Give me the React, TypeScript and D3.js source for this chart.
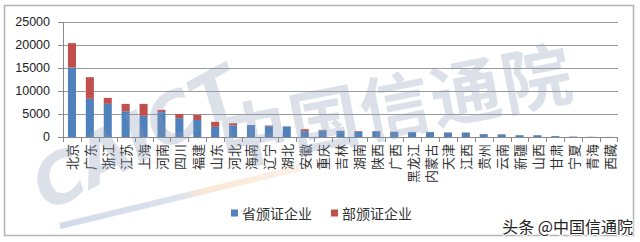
import React from "react";
import * as d3 from "d3";

const provinces = ["北京", "广东", "浙江", "江苏", "上海", "河南", "四川", "福建", "山东", "河北", "海南", "辽宁", "湖北", "安徽", "重庆", "吉林", "湖南", "陕西", "广西", "黑龙江", "内蒙古", "天津", "江西", "贵州", "云南", "新疆", "山西", "甘肃", "宁夏", "青海", "西藏"];
const provincial = [15100, 8300, 7200, 5600, 4600, 5400, 4100, 3700, 2200, 2500, 2600, 2350, 2300, 1250, 1450, 1300, 1150, 1250, 1100, 1050, 1050, 950, 950, 620, 570, 380, 380, 190, 95, 48, 20];
const ministerial = [5300, 4700, 1300, 1600, 2600, 500, 900, 1100, 1100, 500, 0, 150, 0, 450, 100, 50, 150, 50, 50, 50, 50, 50, 50, 30, 30, 20, 20, 10, 5, 2, 0];
const yTicks = [0, 5000, 10000, 15000, 20000, 25000];
const seriesNames = ["省颁证企业", "部颁证企业"];
const colors = ["#4F81BD", "#C0504D"];

const W = 640, H = 242;
const x0 = 63, x1 = 618, yBase = 137, yTop = 22;

export default function App() {
  const x = d3.scaleBand<string>().domain(provinces).range([x0, x1]).padding(0);
  const y = d3.scaleLinear().domain([0, 25000]).range([yBase, yTop]);
  const bw = x.bandwidth() * 0.45;
  const stack = d3.stack<number>().keys(["p", "m"]).value((i, k) => (k === "p" ? provincial[i] : ministerial[i]));
  const series = stack(provinces.map((_, i) => i));
  const cjk = "'Noto Sans CJK SC', sans-serif";

  return (
    <svg width={W} height={H} style={{ position: "absolute", left: 0, top: 0, background: "#fff" }}>
      <defs>
        <linearGradient id="stripe" x1="0" y1="0" x2="1" y2="0">
          <stop offset="0" stopColor="#6f86b8" />
          <stop offset="0.5" stopColor="#8fa0c8" />
          <stop offset="0.6" stopColor="#f2b27a" />
          <stop offset="1" stopColor="#f6d2b0" />
        </linearGradient>
      </defs>
      <rect x={0} y={0} width={W} height={H} fill="#fff" />
      <rect x={4.5} y={5.5} width={629} height={230} fill="#fff" stroke="#b4b4b4" strokeWidth={1.5} />
      {/* gridlines */}
      {yTicks.slice(1).map((t) => (
        <line key={t} x1={x0} x2={x1} y1={Math.round(y(t)) + 0.5} y2={Math.round(y(t)) + 0.5} stroke="#9a9a9a" strokeWidth={1} />
      ))}
      {/* bars */}
      {series.map((s, si) => (
        <g key={si} fill={colors[si]}>
          {s.map((d, i) => {
            const h = y(d[0]) - y(d[1]);
            if (h <= 0) return null;
            return <rect key={i} x={(x(provinces[i]) as number) + (x.bandwidth() - bw) / 2} y={y(d[1])} width={bw} height={h} />;
          })}
        </g>
      ))}
      {/* axes */}
      <line x1={x0 + 0.5} x2={x0 + 0.5} y1={yTop} y2={yBase} stroke="#8a8a8a" />
      {yTicks.map((t) => (
        <g key={t}>
          <line x1={x0 - 5} x2={x0} y1={Math.round(y(t)) + 0.5} y2={Math.round(y(t)) + 0.5} stroke="#8a8a8a" />
          <text x={50} y={y(t)} textAnchor="end" dominantBaseline="central" fontFamily="'Liberation Sans', Arial, sans-serif" fontSize={12.5} fill="#222">{t}</text>
        </g>
      ))}
      <line x1={x0} x2={x1} y1={yBase + 0.5} y2={yBase + 0.5} stroke="#8a8a8a" />
      {provinces.map((p, i) => (
        <line key={"t" + i} x1={Math.round(x(p) as number) + 0.5} x2={Math.round(x(p) as number) + 0.5} y1={yBase} y2={yBase + 5} stroke="#8a8a8a" />
      ))}
      <line x1={x1 - 0.5} x2={x1 - 0.5} y1={yBase} y2={yBase + 5} stroke="#8a8a8a" />
      {provinces.map((p) => {
        const cx = (x(p) as number) + x.bandwidth() / 2;
        return (
          <text key={p} transform={`translate(${cx},144) rotate(-90)`} textAnchor="end" dominantBaseline="central" fontFamily={cjk} fontSize={13} fill="#333">{p}</text>
        );
      })}
      {/* legend */}
      <rect x={231} y={209.5} width={7} height={7} fill={colors[0]} />
      <text x={242} y={213} dominantBaseline="central" fontFamily={cjk} fontSize={14} fill="#333">{seriesNames[0]}</text>
      <rect x={331} y={209.5} width={7} height={7} fill={colors[1]} />
      <text x={342} y={213} dominantBaseline="central" fontFamily={cjk} fontSize={14} fill="#333">{seriesNames[1]}</text>
      {/* watermarks */}
      <g opacity={0.3} pointerEvents="none">
        <line x1={60} y1={226} x2={300} y2={168} stroke="url(#stripe)" strokeWidth={6} />
        <text transform="translate(48,212) rotate(-28)" fontFamily="'DejaVu Sans', sans-serif" fontWeight="bold" fontStyle="italic" fontSize={68} fill="#8d9ab8">CAICT</text>
        <text transform="translate(224,166) rotate(-11)" fontFamily={cjk} fontWeight="bold" fontSize={70} letterSpacing={2} fill="#8d9ab8">中国信通院</text>
      </g>
      <text x={633} y={233} textAnchor="end" fontFamily={cjk} fontSize={16} fill="#222" stroke="#fff" strokeWidth={2} paintOrder="stroke">头条 @中国信通院</text>
    </svg>
  );
}
